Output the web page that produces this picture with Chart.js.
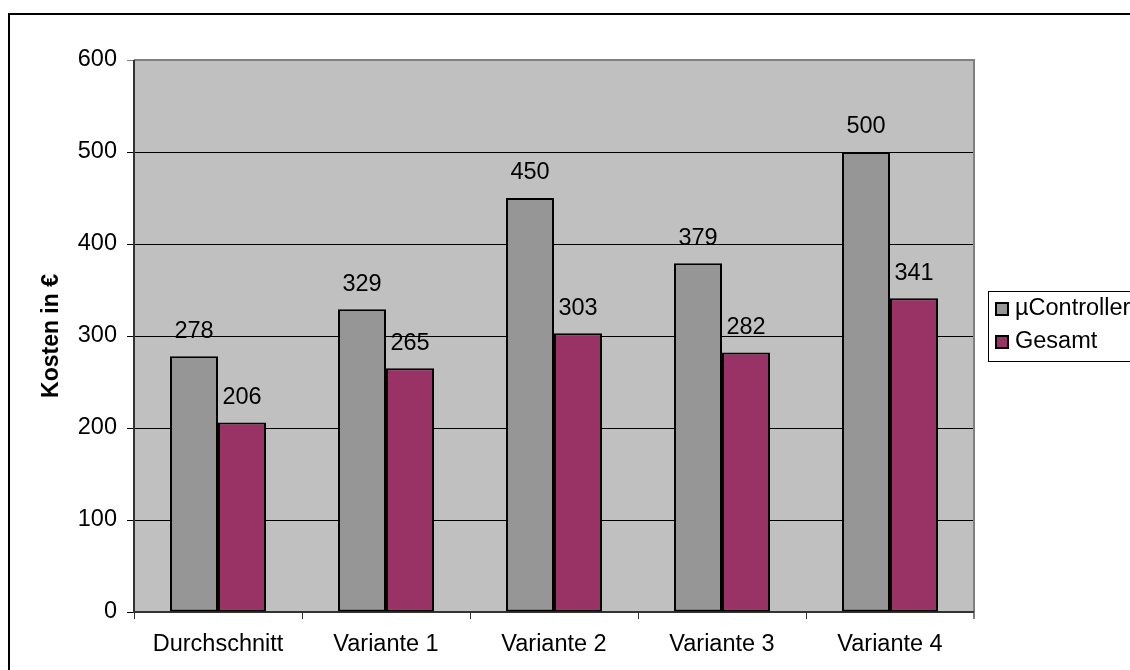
<!DOCTYPE html>
<html>
<head>
<meta charset="utf-8">
<script src="https://cdn.jsdelivr.net/npm/chart.js@4"></script>
<style>
  html, body { margin: 0; padding: 0; background: #fff; overflow: hidden; }
  #wrap { width: 1130px; height: 670px; }
</style>
</head>
<body>
<div id="wrap"><canvas id="kosten"></canvas></div>
<script>
// Kostenvergleich der Varianten
const kategorien = ["Durchschnitt", "Variante 1", "Variante 2", "Variante 3", "Variante 4"];
const controllerKosten = [278, 329, 450, 379, 500];
const gesamtKosten = [206, 265, 303, 282, 341];
const yTicks = [0, 100, 200, 300, 400, 500, 600];

const schrift = "'Liberation Sans', Arial, sans-serif";
const groesse = 23.5;

// Rahmen, Plot-Hintergrund und Legende zeichnen
const rahmenPlugin = {
    id: "rahmen",
    beforeDraw(chart) {
        const ctx = chart.ctx;
        const a = chart.chartArea;
        ctx.save();
        ctx.fillStyle = "#fff";
        ctx.fillRect(0, 0, chart.width, chart.height);
        // äußerer Rahmen
        ctx.strokeStyle = "#000";
        ctx.lineWidth = 2;
        ctx.beginPath();
        ctx.moveTo(9, chart.height + 5);
        ctx.lineTo(9, 14);
        ctx.lineTo(chart.width + 5, 14);
        ctx.stroke();
        // Plotfläche
        ctx.fillStyle = "#C0C0C0";
        ctx.fillRect(a.left, a.top, a.right - a.left, a.bottom - a.top);
        ctx.restore();
    },
    beforeDatasetsDraw(chart) {
        const ctx = chart.ctx;
        const a = chart.chartArea;
        ctx.save();
        ctx.strokeStyle = "#808080";
        ctx.lineWidth = 2;
        ctx.beginPath();
        ctx.moveTo(a.left, a.top);
        ctx.lineTo(a.right, a.top);
        ctx.lineTo(a.right, a.bottom + 7);
        ctx.stroke();
        ctx.strokeStyle = "#333";
        ctx.beginPath();
        ctx.moveTo(a.left, a.top);
        ctx.lineTo(a.left, a.bottom + 1);
        ctx.moveTo(a.left - 1, a.bottom);
        ctx.lineTo(a.right, a.bottom);
        ctx.stroke();
        ctx.restore();
    },
    afterDatasetsDraw(chart) {
        const ctx = chart.ctx;
        ctx.save();
        ctx.font = groesse + "px " + schrift;
        ctx.fillStyle = "#000";
        ctx.textAlign = "center";
        ctx.textBaseline = "middle";
        chart.data.datasets.forEach((ds, i) => {
            chart.getDatasetMeta(i).data.forEach((bar, j) => {
                ctx.fillText(String(ds.data[j]), bar.x, bar.y - 25);
            });
        });

        // Legende rechts
        const lx = 988, ly = 291;
        ctx.fillStyle = "#fff";
        ctx.fillRect(lx, ly, 200, 70);
        ctx.strokeStyle = "#000";
        ctx.lineWidth = 1;
        ctx.strokeRect(lx + 0.5, ly + 0.5, 200, 70);
        ctx.textAlign = "left";
        chart.data.datasets.forEach((ds, i) => {
            const y = 302 + i * 33;
            ctx.fillStyle = ds.backgroundColor;
            ctx.fillRect(995, y, 14, 14);
            ctx.strokeStyle = "#000";
            ctx.lineWidth = 2;
            ctx.strokeRect(996, y + 1, 12, 12);
            ctx.fillStyle = "#000";
            ctx.fillText(ds.label, 1015, y + 7);
        });
        ctx.restore();
    }
};

new Chart(document.getElementById("kosten"), {
    type: "bar",
    data: {
        labels: kategorien,
        datasets: [{
            label: "µController",
            data: controllerKosten,
            backgroundColor: "#969696",
            borderColor: "#000",
            borderWidth: 2,
            borderSkipped: false
        }, {
            label: "Gesamt",
            data: gesamtKosten,
            backgroundColor: "#993366",
            borderColor: "#000",
            borderWidth: 2,
            borderSkipped: false
        }]
    },
    options: {
        responsive: true,
        maintainAspectRatio: false,
        animation: false,
        categoryPercentage: 96 / 168,
        barPercentage: 1,
        layout: { padding: { top: 60, right: 156, left: 0, bottom: 0 } },
        plugins: {
            legend: { display: false },
            tooltip: { enabled: false }
        },
        scales: {
            x: {
                grid: {
                    offset: true,
                    drawOnChartArea: false,
                    tickLength: 7,
                    color: "#333",
                    lineWidth: 1
                },
                border: { display: false },
                ticks: {
                    color: "#000",
                    padding: 11,
                    font: { family: schrift, size: groesse }
                },
                afterFit(scale) { scale.height = 58; }
            },
            y: {
                min: 0,
                max: 600,
                afterBuildTicks(scale) { scale.ticks = yTicks.map(v => ({ value: v })); },
                grid: {
                    tickLength: 7,
                    color: ctx => ctx.tick && ctx.tick.value === 600 ? "#808080" : "#000",
                    lineWidth: 1
                },
                border: { display: false },
                ticks: {
                    color: "#000",
                    padding: 10,
                    font: { family: schrift, size: groesse }
                },
                title: {
                    display: true,
                    text: "Kosten in €",
                    color: "#000",
                    padding: { top: 38, bottom: 0 },
                    font: { family: schrift, size: 23, weight: "bold" }
                },
                afterFit(scale) { scale.width = 134; }
            }
        }
    },
    plugins: [rahmenPlugin]
});
</script>
</body>
</html>
